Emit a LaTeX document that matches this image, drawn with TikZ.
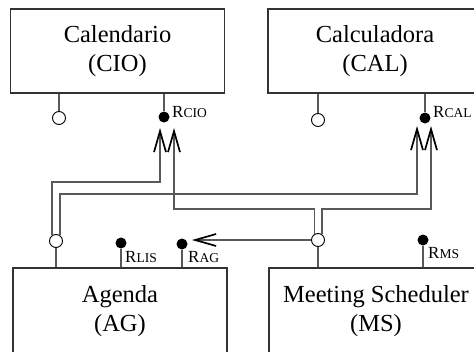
\documentclass[tikz,border=0pt]{standalone}
\usepackage{fontspec}
\setmainfont{Liberation Serif}
\usepackage{tikz}
\usetikzlibrary{arrows.meta,positioning}
\newcommand{\portname}[1]{{\fontsize{17}{17}\selectfont R}{\fontsize{13.5}{14}\selectfont #1}}
\tikzset{
  compbox/.style={draw=black!80, line width=1.3pt, minimum width=214pt, minimum height=84pt, align=center, inner sep=0pt, font=\fontsize{24.5}{29}\selectfont},
  portopen/.style={circle, draw=black, fill=white, line width=0.9pt, minimum size=13pt, inner sep=0pt},
  portdot/.style={circle, fill=black, minimum size=11pt, inner sep=0pt},
  wireline/.style={draw=black!65, line width=1.4pt},
  wirearrow/.style={wireline, -{Straight Barb[length=21pt, width=12pt, line width=1.7pt, color=black]}},
  portlabel/.style={anchor=base west, inner sep=0pt}
}

\begin{document}
\begin{tikzpicture}[x=1pt, y=-1pt]
  \useasboundingbox (0,0) rectangle (474,351);
  % components
  \node[compbox] (cio) at (117.5,51) {Calendario\\(CIO)};
  \node[compbox] (cal) at (375,51) {Calculadora\\(CAL)};
  \node[compbox, minimum height=86pt] (ag) at (120,311) {Agenda\\(AG)};
  \node[compbox, minimum height=86pt] (ms) at (376,311) {Meeting Scheduler\\(MS)};

  % ports
  \node[portopen] (cioreq) at (59,118) {};
  \node[portdot] (cioprov) at (164,117) {};
  \node[portopen] (calreq) at (318,120) {};
  \node[portdot] (calprov) at (425,118) {};
  \node[portopen] (agreq) at (56,241) {};
  \node[portdot] (lisprov) at (121,243) {};
  \node[portdot] (agprov) at (182,244) {};
  \node[portopen] (msreq) at (318,240) {};
  \node[portdot] (msprov) at (423,240) {};

  \node[portlabel] (cioname) at (172,117) {\portname{CIO}};
  \node[portlabel] (calname) at (433,117) {\portname{CAL}};
  \node[portlabel] (lisname) at (125,262) {\portname{LIS}};
  \node[portlabel] (agname) at (188,262) {\portname{AG}};
  \node[portlabel] (msname) at (428,258) {\portname{MS}};

  \draw[wireline] (cioreq) -- (cioreq |- cio.south);
  \draw[wireline] (cioprov) -- (cioprov |- cio.south);
  \draw[wireline] (calreq) -- (calreq |- cal.south);
  \draw[wireline] (calprov) -- (calprov |- cal.south);
  \draw[wireline] (agreq) -- (agreq |- ag.north);
  \draw[wireline] (lisprov) -- (lisprov |- ag.north);
  \draw[wireline] (agprov) -- (agprov |- ag.north);
  \draw[wireline] (msreq) -- (msreq |- ms.north);
  \draw[wireline] (msprov) -- (msprov |- ms.north);

  % bindings
  \coordinate (cioin1) at (160,128);
  \coordinate (cioin2) at (174,128);
  \coordinate (calin1) at (417,126);
  \coordinate (calin2) at (431,126);
  \coordinate (agin) at (192,240);
  \coordinate (busa) at (0,182);
  \coordinate (busb) at (0,194);
  \coordinate (busc) at (0,209);

  \draw[wirearrow] (agreq.125) -- (agreq.125 |- busa) -| (cioin1);
  \draw[wirearrow] (agreq.55) -- (agreq.55 |- busb) -| (calin1);
  \draw[wirearrow] (msreq.120) -- (msreq.120 |- busc) -| (cioin2);
  \draw[wirearrow] (msreq.55) -- (msreq.55 |- busc) -| (calin2);
  \draw[wirearrow] (msreq.west) -- (agin);
\end{tikzpicture}
\end{document}
